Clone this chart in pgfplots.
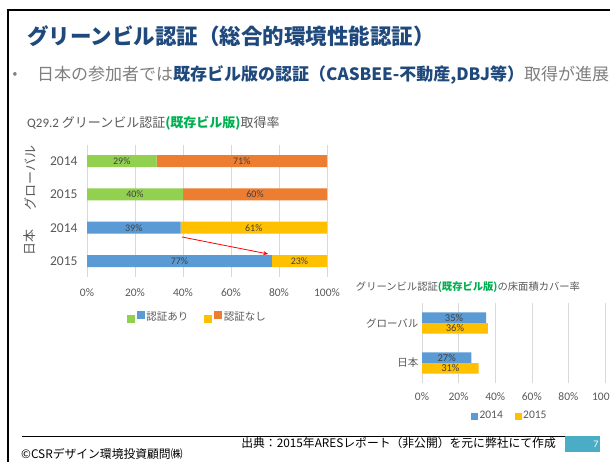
\documentclass[border=0pt]{standalone}
\usepackage{fontspec}
\setmainfont{Noto Sans CJK JP}
\newfontfamily\calfont{Carlito}
\usepackage{pgfplots}
\pgfplotsset{compat=1.18}
\usetikzlibrary{arrows.meta}
\definecolor{cgreen}{RGB}{146,208,80}
\definecolor{corange}{RGB}{237,125,49}
\definecolor{cblue}{RGB}{91,155,213}
\definecolor{cyellow}{RGB}{255,192,0}
\definecolor{ctitle}{RGB}{31,73,125}
\definecolor{cbul}{RGB}{127,127,127}
\definecolor{ctick}{RGB}{89,89,89}
\definecolor{clabel}{RGB}{64,64,64}
\definecolor{cgrid}{RGB}{217,217,217}
\definecolor{cteal}{RGB}{75,172,198}
\definecolor{cgtitle}{RGB}{0,176,80}
\begin{document}
\begin{tikzpicture}
\path[use as bounding box] (0,0) rectangle (610pt,461pt);
\clip (0,0) rectangle (610pt,461pt);
\fill[white] (0,0) rectangle (610pt,461pt);
% frame
\draw[line width=2.2pt] (8pt,-2pt) -- (8pt,451pt) -- (614pt,451pt);
\draw[line width=0.8pt] (22pt,25pt) -- (565pt,25pt);
\fill[cteal] (565pt,9pt) rectangle (600pt,25pt);
\node[white, font=\calfont\fontsize{10}{12}\selectfont] at (596pt,17pt) {7};
% titles
\node[anchor=west, text=ctitle, font=\fontsize{21.5}{24}\selectfont\bfseries, inner sep=0pt] at (27pt,425pt) {グリーンビル認証（総合的環境性能認証）};
\node[text=cbul, font=\fontsize{14}{16}\selectfont, inner sep=0pt] at (15pt,386pt) {•};
\node[anchor=west, text=cbul, font=\fontsize{17}{19}\selectfont, inner sep=0pt] at (37pt,386pt) {日本の参加者では{\bfseries\color{ctitle}既存ビル版の認証（CASBEE-不動産,DBJ等）}取得が進展};
% footer
\node[anchor=west, font=\fontsize{11.8}{13}\selectfont, inner sep=0pt] at (21pt,7pt) {©CSRデザイン環境投資顧問㈱};
\node[anchor=east, font=\fontsize{11.8}{13}\selectfont, inner sep=0pt] at (556pt,18pt) {出典：2015年ARESレポート（非公開）を元に弊社にて作成};
% chart 1 title and group labels
\node[anchor=west, text=ctick, font=\fontsize{13}{15}\selectfont, inner sep=0pt] at (27pt,338pt) {{\calfont Q29.2} グリーンビル認証{\bfseries\color{cgtitle}(既存ビル版)}取得率};
\node[rotate=90, text=ctick, font=\fontsize{13}{15}\selectfont] at (30pt,283pt) {グローバル};
\node[rotate=90, text=ctick, font=\fontsize{13}{15}\selectfont] at (30pt,218pt) {日本};
% chart 2 title
\node[text=ctick, font=\fontsize{10.3}{12}\selectfont, inner sep=0pt] at (468pt,174pt) {グリーンビル認証{\bfseries\color{cgtitle}(既存ビル版)}の床面積カバー率};

\begin{axis}[
  at={(87pt,184pt)}, anchor=south west, scale only axis,
  width=240pt, height=132pt,
  xbar stacked, bar width=12pt,
  xmin=0, xmax=100, ymin=0.52, ymax=4.48,
  axis line style={draw=none}, major tick style={draw=none},
  xmajorgrids, grid style={draw=cgrid, line width=0.6pt},
  xtick={0,20,40,60,80,100},
  xticklabel={\pgfmathprintnumber{\tick}\%},
  ytick={1,2,3,4}, yticklabels={2015,2014,2015,2014},
  /pgf/number format/assume math mode=true,
  xticklabel style={font=\calfont\fontsize{11.5}{13}\selectfont, text=ctick, yshift=-8pt},
  yticklabel style={font=\calfont\fontsize{13.5}{15}\selectfont, text=ctick, xshift=-6pt},
  point meta=explicit symbolic,
  nodes near coords,
  every node near coord/.append style={font=\calfont\fontsize{10}{11}\selectfont, text=clabel},
  legend style={at={(0.46,-0.30)}, anchor=center, draw=none, fill=none,
    font=\fontsize{10.5}{12}\selectfont, text=ctick,
    /tikz/every even column/.append style={column sep=14pt}},
  legend columns=2,
]
\addplot[fill=cgreen, draw=none, forget plot] coordinates {(0,1)[] (0,2)[] (40,3)[40\%] (29,4)[29\%]};
\addplot[fill=cblue, draw=none, forget plot] coordinates {(77,1)[77\%] (39,2)[39\%] (0,3)[] (0,4)[]};
\addplot[fill=corange, draw=none, forget plot] coordinates {(0,1)[] (0,2)[] (60,3)[60\%] (71,4)[71\%]};
\addplot[fill=cyellow, draw=none, forget plot] coordinates {(23,1)[23\%] (61,2)[61\%] (0,3)[] (0,4)[]};
\addlegendimage{legend image code/.code={\fill[cgreen] (0pt,-6pt) rectangle (7pt,1pt); \fill[cblue] (10pt,-2pt) rectangle (17pt,5pt);}}
\addlegendentry{認証あり}
\addlegendimage{legend image code/.code={\fill[cyellow] (0pt,-6pt) rectangle (7pt,1pt); \fill[corange] (10pt,-2pt) rectangle (17pt,5pt);}}
\addlegendentry{認証なし}
\draw[red, line width=0.8pt, -{Stealth[length=5pt,width=4pt]}] (axis cs:39.6,1.72) -- (axis cs:75.5,1.21);
\end{axis}

\begin{axis}[
  at={(422pt,78pt)}, anchor=south west, scale only axis,
  width=183pt, height=80pt,
  xbar stacked, bar width=10.5pt,
  xmin=0, xmax=100, ymin=0.5, ymax=2.5,
  axis line style={draw=none}, major tick style={draw=none},
  xmajorgrids, grid style={draw=cgrid, line width=0.6pt},
  xtick={0,20,40,60,80,100},
  xticklabel={\pgfmathprintnumber{\tick}\%},
  ytick={1,2}, yticklabels={日本,グローバル},
  /pgf/number format/assume math mode=true,
  xticklabel style={font=\calfont\fontsize{11.5}{13}\selectfont, text=ctick, yshift=-6pt},
  yticklabel style={font=\fontsize{10.5}{12}\selectfont, text=ctick},
  point meta=explicit symbolic,
  nodes near coords,
  every node near coord/.append style={font=\calfont\fontsize{10.5}{11}\selectfont, text=clabel},
  legend style={at={(0.48,-0.41)}, anchor=center, draw=none, fill=none,
    font=\calfont\fontsize{11.5}{13}\selectfont, text=ctick,
    /tikz/every even column/.append style={column sep=10pt}},
  legend columns=2,
]
\addplot[fill=cblue, draw=none, forget plot] coordinates {(0,0.865)[] (27,1.135)[27\%] (0,1.865)[] (35,2.135)[35\%]};
\addplot[fill=cyellow, draw=none, forget plot] coordinates {(31,0.865)[31\%] (0,1.135)[] (36,1.865)[36\%] (0,2.135)[]};
\addlegendimage{legend image code/.code={\fill[cblue] (0pt,-3pt) rectangle (6pt,3pt);}}
\addlegendentry{2014}
\addlegendimage{legend image code/.code={\fill[cyellow] (0pt,-3pt) rectangle (6pt,3pt);}}
\addlegendentry{2015}
\end{axis}
\end{tikzpicture}
\end{document}
